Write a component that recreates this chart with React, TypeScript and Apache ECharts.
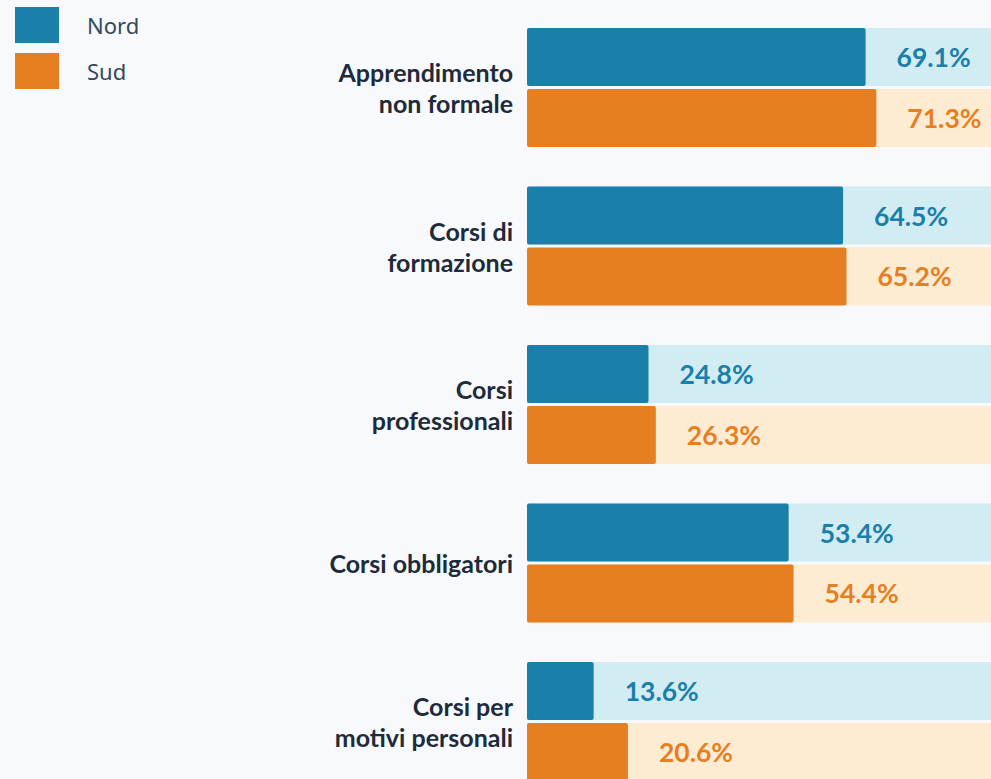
import React, { useEffect, useRef } from "react";
import * as echarts from "echarts";

const categories = [
  "Apprendimento\nnon formale",
  "Corsi di\nformazione",
  "Corsi\nprofessionali",
  "Corsi obbligatori",
  "Corsi per\nmotivi personali",
];
const nordValues = [69.1, 64.5, 24.8, 53.4, 13.6];
const sudValues = [71.3, 65.2, 26.3, 54.4, 20.6];
const seriesNames = ["Nord", "Sud"];

const NORD = "#1a7fa9";
const SUD = "#e67f22";
const NORD_BG = "#d2ecf4";
const SUD_BG = "#fdebd2";
const PAGE_BG = "#f7f9fc";
const FONT = "Lato, 'Open Sans', sans-serif";

export default function App() {
  const ref = useRef<HTMLDivElement>(null);
  useEffect(() => {
    if (!ref.current) return;
    const chart = echarts.init(ref.current, undefined, { renderer: "svg" });
    const makeSeries = (name: string, data: number[], color: string, bg: string) => ({
      name,
      type: "bar",
      data,
      barWidth: 58,
      barGap: "5%",
      itemStyle: { color, borderRadius: 2 },
      showBackground: true,
      backgroundStyle: { color: bg },
      label: {
        show: true,
        position: "right",
        distance: 31,
        formatter: (p: any) => p.value.toFixed(1) + "%",
        color,
        fontFamily: FONT,
        fontWeight: "bold",
        fontSize: 26.5,
      },
    });
    chart.setOption({
      animation: false,
      backgroundColor: PAGE_BG,
      legend: {
        orient: "vertical",
        left: 10,
        top: 2,
        itemWidth: 44,
        itemHeight: 36,
        itemGap: 10,
        icon: "rect",
        itemStyle: { borderRadius: 2 },
        data: seriesNames,
        textStyle: {
          fontFamily: "'Noto Sans', sans-serif",
          fontSize: 22,
          color: "#34495e",
          padding: [0, 0, 0, 23],
        },
      },
      grid: { left: 527, right: 13, top: 8.25, height: 792.5 },
      xAxis: {
        type: "value",
        min: 0,
        max: 100,
        show: false,
      },
      yAxis: {
        type: "category",
        inverse: true,
        data: categories,
        axisLine: { show: false },
        axisTick: { show: false },
        axisLabel: {
          margin: 14,
          fontFamily: FONT,
          fontWeight: "bold",
          fontSize: 25,
          lineHeight: 31,
          color: "#1e2b3a",
          align: "right",
        },
      },
      series: [
        makeSeries(seriesNames[0], nordValues, NORD, NORD_BG),
        makeSeries(seriesNames[1], sudValues, SUD, SUD_BG),
      ],
    });
    return () => chart.dispose();
  }, []);
  return (
    <div
      style={{
        position: "absolute",
        left: 0,
        top: 0,
        width: 991,
        height: 779,
        overflow: "hidden",
        background: PAGE_BG,
      }}
    >
      <div ref={ref} style={{ width: 1030, height: 820 }} />
    </div>
  );
}
